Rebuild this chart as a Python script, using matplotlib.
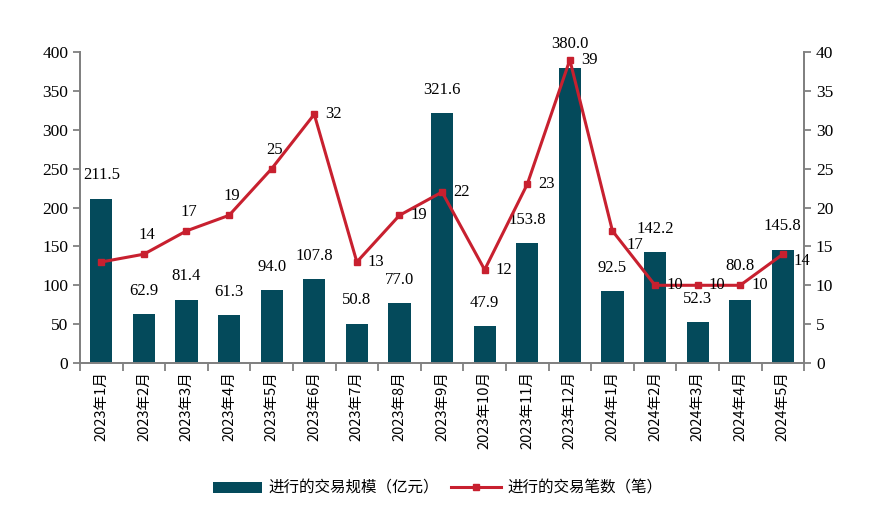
import numpy as np
import matplotlib
matplotlib.use('Agg')
from matplotlib import pyplot as plt

plt.rcParams['font.family'] = ['Noto Sans CJK SC', 'DejaVu Sans']

months = ['2023年1月', '2023年2月', '2023年3月', '2023年4月', '2023年5月', '2023年6月',
          '2023年7月', '2023年8月', '2023年9月', '2023年10月', '2023年11月', '2023年12月',
          '2024年1月', '2024年2月', '2024年3月', '2024年4月', '2024年5月']
scale = [211.5, 62.9, 81.4, 61.3, 94.0, 107.8, 50.8, 77.0, 321.6, 47.9, 153.8, 380.0,
         92.5, 142.2, 52.3, 80.8, 145.8]
count = [13, 14, 17, 19, 25, 32, 13, 19, 22, 12, 23, 39, 17, 10, 10, 10, 14]

bar_color = '#044A5B'
line_color = '#C8202F'
serif = 'Liberation Serif'

fig = plt.figure(figsize=(8.75, 5.11), dpi=100)
ax = fig.add_axes([0.0914, 0.2896, 0.8276, 0.6084])
ax2 = ax.twinx()

x = np.arange(len(months))
bars = ax.bar(x, scale, width=0.52, color=bar_color, label='进行的交易规模（亿元）', zorder=2)
ax.set_xlim(-0.5, len(months) - 0.5)
ax.set_ylim(0, 400)
ax.set_yticks(np.arange(0, 401, 50))
ax2.set_ylim(0, 40)
ax2.set_yticks(np.arange(0, 41, 5))

ln, = ax2.plot(x, count, color=line_color, lw=2.2, marker='s', ms=5,
               label='进行的交易笔数（笔）', zorder=3)

n = len(count)
for i, (xi, v) in enumerate(zip(x, scale)):
    dy = 19 if i == n - 2 else 11   # lift the 2024年4月 label clear of the line labels
    ax.annotate(f'{v:.1f}', (xi, v), xytext=(0, dy), textcoords='offset points',
                ha='center', va='bottom', fontsize=12, family=serif, color='black')

# line labels: above for the early points, to the right for the rest
for i, (xi, v) in enumerate(zip(x, count)):
    if i == 0:
        continue
    if 1 <= i <= 4:
        off = (2, 8)
        ha, va = 'center', 'bottom'
    elif i == 12:
        off = (10, -10)
        ha, va = 'left', 'center'
    elif i == n - 1:
        off = (8, -5)
        ha, va = 'left', 'center'
    else:
        off = (8, 0)
        ha, va = 'left', 'center'
    ax2.annotate(str(v), (xi, v), xytext=off, textcoords='offset points',
                 ha=ha, va=va, fontsize=12, family=serif, color='black')

for a in (ax, ax2):
    a.spines['top'].set_visible(False)
    for s in ('left', 'right', 'bottom'):
        a.spines[s].set_color('#808080')
        a.spines[s].set_linewidth(1.3)
    a.tick_params(axis='y', colors='#808080', length=5, width=1.3, labelcolor='black',
                  labelsize=12.5)
    for lab in a.get_yticklabels():
        lab.set_family(serif)

ax.set_xticks(x)
ax.set_xticklabels(months, rotation=90, fontsize=10.5)
ax.tick_params(axis='x', length=0, pad=6)
ax.set_xticks(np.arange(-0.5, len(months), 1), minor=True)
ax.tick_params(axis='x', which='minor', length=6, width=1.3, color='#808080')

fig.legend([bars, ln], ['进行的交易规模（亿元）', '进行的交易笔数（笔）'],
           loc='center', bbox_to_anchor=(0.5, 0.045), ncol=2, frameon=False,
           fontsize=11.2, handlelength=3.2, columnspacing=0.8, handletextpad=0.4)

fig.savefig('out.png', dpi=100)
